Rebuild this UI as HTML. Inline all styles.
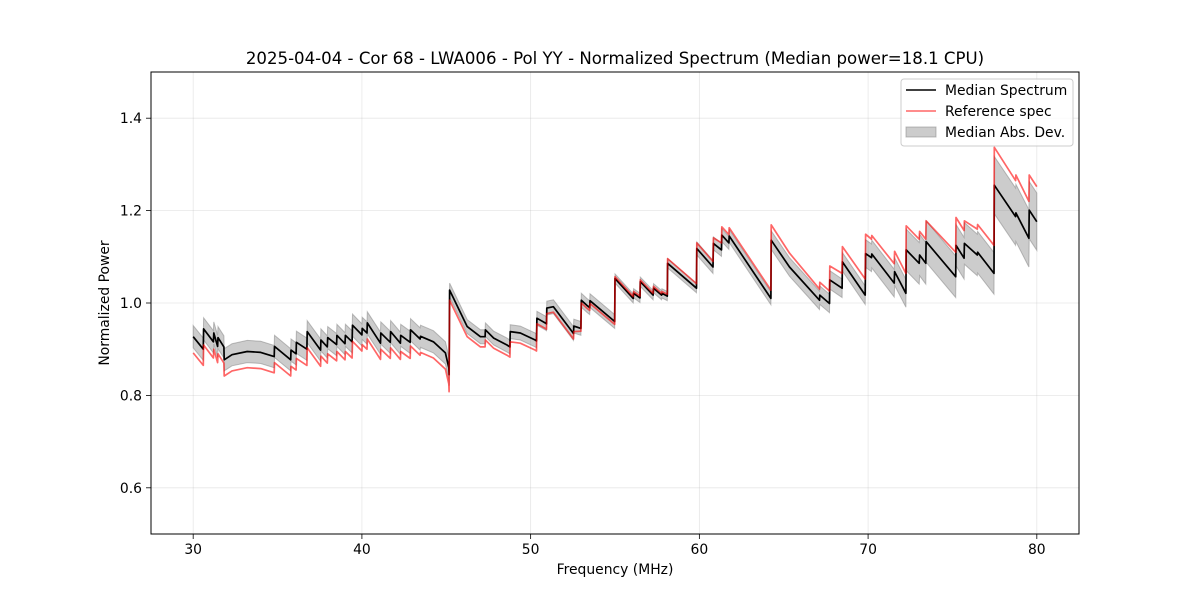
<!DOCTYPE html>
<html><head><meta charset="utf-8"><style>
html,body{margin:0;padding:0;background:#fff;}
svg{display:block;font-family:"DejaVu Sans","Liberation Sans",sans-serif;}
</style></head><body>
<svg id="chart" width="1200" height="600" viewBox="0 0 1200 600" xmlns="http://www.w3.org/2000/svg">
<text x="615" y="64" text-anchor="middle" font-size="16.6" fill="#000">2025-04-04 - Cor 68 - LWA006 - Pol YY - Normalized Spectrum (Median power=18.1 CPU)</text>
<g id="grid"></g>
<g id="plot"></g>
<rect x="151" y="72" width="928" height="462" fill="none" stroke="#000" stroke-width="1"/>
<g id="axes"></g>
<text x="615" y="574" text-anchor="middle" font-size="13.9">Frequency (MHz)</text>
<text x="0" y="0" transform="translate(109,303) rotate(-90)" text-anchor="middle" font-size="13.9">Normalized Power</text>
<g>
<rect x="901" y="79" width="172" height="67" rx="3" fill="#fff" fill-opacity="0.8" stroke="#ccc"/>
<g><line x1="906" y1="90" x2="936" y2="90" stroke="#000" stroke-width="1.5"/><text x="945" y="95" font-size="13.9">Median Spectrum</text></g>
<g><line x1="906" y1="111" x2="936" y2="111" stroke="#ff0000" stroke-opacity="0.6" stroke-width="1.5"/><text x="945" y="116" font-size="13.9">Reference spec</text></g>
<g><rect x="906" y="127" width="30" height="10" fill="#808080" fill-opacity="0.4" stroke="#808080" stroke-opacity="0.5"/><text x="945" y="137" font-size="13.9">Median Abs. Dev.</text></g>
</g>
</svg>
<script>
const freqs=[30.00,30.60,30.62,31.20,31.22,31.45,31.47,31.82,31.84,32.30,33.20,34.00,34.80,34.82,35.78,35.80,36.10,36.12,36.74,36.76,37.55,37.57,37.95,37.97,38.50,38.52,39.00,39.02,39.42,39.44,40.00,40.02,40.30,40.32,41.10,41.12,41.68,41.70,42.28,42.30,42.86,42.88,43.45,43.47,44.24,44.95,45.15,45.17,
45.20,46.24,47.02,47.30,47.32,47.81,48.60,48.77,48.79,49.39,50.27,50.35,50.37,50.86,50.94,50.96,51.35,52.54,52.56,52.98,53.00,53.33,53.50,53.52,54.98,
55.00,56.08,56.10,56.48,56.50,57.26,57.28,57.76,57.78,58.10,58.12,59.83,
59.85,60.81,60.83,61.31,61.33,61.75,61.77,64.24,
64.26,65.34,67.12,67.14,67.71,67.73,68.46,68.48,69.83,
69.85,70.20,70.22,71.55,71.57,72.24,
72.26,73.03,73.05,73.42,73.44,75.19,75.21,75.69,75.71,76.47,76.49,77.46,
77.48,78.74,78.76,79.53,79.55,80.00];
const medianVals=[.927,.900,.944,.916,.935,.906,.925,.905,.877,.888,.895,.893,.884,.906,.877,.898,.890,.915,.900,.938,.898,.920,.905,.925,.910,.930,.912,.930,.916,.952,.931,.945,.935,.957,.913,.935,.915,.938,.913,.930,.915,.942,.922,.928,.916,.892,.860,.845,
1.028,.949,.927,.927,.942,.924,.909,.905,.938,.935,.920,.918,.967,.957,.955,.989,.992,.934,.950,.945,1.006,.995,.990,1.005,.960,
1.053,1.010,1.021,1.011,1.046,1.017,1.032,1.017,1.021,1.015,1.086,1.032,
1.118,1.078,1.129,1.115,1.147,1.130,1.145,1.010,
1.136,1.078,1.006,1.017,.999,1.050,1.032,1.089,1.017,
1.107,1.098,1.106,1.043,1.068,1.021,
1.115,1.086,1.104,1.086,1.133,1.057,1.125,1.097,1.129,1.104,1.110,1.064,
1.255,1.187,1.195,1.140,1.201,1.176];
const refVals=[.892,.865,.909,.881,.900,.871,.890,.870,.842,.853,.860,.858,.849,.871,.842,.863,.855,.880,.865,.903,.863,.885,.870,.890,.875,.895,.877,.895,.881,.917,.896,.910,.900,.922,.878,.900,.880,.903,.878,.895,.880,.907,.887,.893,.881,.857,.825,.808,
1.006,.927,.905,.905,.920,.902,.887,.883,.916,.913,.898,.896,.955,.945,.943,.977,.980,.922,.938,.939,1.000,.989,.984,.999,.954,
1.057,1.014,1.025,1.015,1.050,1.021,1.036,1.021,1.025,1.019,1.096,1.042,
1.130,1.090,1.141,1.130,1.165,1.148,1.163,1.028,
1.169,1.108,1.030,1.045,1.026,1.080,1.064,1.122,1.052,
1.149,1.138,1.146,1.085,1.112,1.064,
1.167,1.138,1.155,1.138,1.178,1.110,1.185,1.157,1.178,1.160,1.170,1.125,
1.337,1.265,1.277,1.220,1.277,1.252];
const madVals=[.024,.024,.024,.024,.024,.024,.024,.024,.024,.024,.024,.024,.024,.024,.024,.024,.024,.024,.024,.024,.024,.024,.024,.024,.024,.024,.024,.024,.024,.024,.024,.024,.024,.024,.024,.024,.024,.024,.024,.024,.024,.024,.024,.024,.024,.024,.024,.024,
.015,.015,.015,.015,.015,.015,.015,.015,.015,.015,.015,.015,.015,.015,.015,.015,.015,.015,.015,.015,.015,.015,.015,.015,.015,
.010,.010,.010,.010,.010,.010,.010,.010,.010,.010,.010,.010,
.014,.014,.014,.014,.014,.014,.014,.014,
.020,.020,.020,.020,.020,.020,.020,.020,.020,
.030,.030,.030,.030,.030,.030,
.045,.045,.045,.045,.045,.045,.045,.045,.045,.045,.045,.045,
.062,.062,.062,.062,.062,.062];
const xTicks=[30,40,50,60,70,80];
const yTicks=[0.6,0.8,1.0,1.2,1.4];
const xTickLabels=["30","40","50","60","70","80"];
const yTickLabels=["0.6","0.8","1.0","1.2","1.4"];

const NS='http://www.w3.org/2000/svg';
const X0=151,X1=1079,Y0=72,Y1=534;
const xMin=27.5,xMax=82.5,yMin=0.5,yMax=1.5;
function sx(f){return X0+(f-xMin)/(xMax-xMin)*(X1-X0);}
function sy(v){return Y1-(v-yMin)/(yMax-yMin)*(Y1-Y0);}
function mk(tag,attrs,parent){const e=document.createElementNS(NS,tag);for(const k in attrs)e.setAttribute(k,attrs[k]);parent.appendChild(e);return e;}
const grid=document.getElementById('grid'),plot=document.getElementById('plot'),axes=document.getElementById('axes');
xTicks.forEach((t,i)=>{
  const x=sx(t);
  const g=mk('line',{x1:x,x2:x,y1:Y0,y2:Y1,stroke:'#b0b0b0','stroke-opacity':0.3,'stroke-width':0.8},grid);
  
  
  const tk=mk('line',{x1:x,x2:x,y1:Y1,y2:Y1+5,stroke:'#000','stroke-width':0.8},axes);
  
  
  const tl=mk('text',{x:x,y:Y1+20,'text-anchor':'middle','font-size':13.9},axes);
  tl.textContent=xTickLabels[i];
  
  
});
yTicks.forEach((t,i)=>{
  const y=sy(t);
  const g=mk('line',{x1:X0,x2:X1,y1:y,y2:y,stroke:'#b0b0b0','stroke-opacity':0.3,'stroke-width':0.8},grid);
  
  
  const tk=mk('line',{x1:X0-5,x2:X0,y1:y,y2:y,stroke:'#000','stroke-width':0.8},axes);
  
  
  const tl=mk('text',{x:X0-9,y:y+5,'text-anchor':'end','font-size':13.9},axes);
  tl.textContent=yTickLabels[i];
  
  
});
let up=[],dn=[];
freqs.forEach((f,i)=>{up.push(sx(f).toFixed(1)+','+sy(medianVals[i]+madVals[i]).toFixed(1));dn.push(sx(f).toFixed(1)+','+sy(medianVals[i]-madVals[i]).toFixed(1));});
const band=mk('polygon',{points:up.concat(dn.reverse()).join(' '),fill:'#808080','fill-opacity':0.4,stroke:'#808080','stroke-opacity':0.5,'stroke-width':1},plot);


const mp=freqs.map((f,i)=>sx(f).toFixed(1)+','+sy(medianVals[i]).toFixed(1)).join(' ');
const med=mk('polyline',{points:mp,fill:'none',stroke:'#000','stroke-width':1.7,'stroke-linejoin':'round'},plot);


const rp=freqs.map((f,i)=>sx(f).toFixed(1)+','+sy(refVals[i]).toFixed(1)).join(' ');
const ref=mk('polyline',{points:rp,fill:'none',stroke:'#ff0000','stroke-opacity':0.6,'stroke-width':1.7,'stroke-linejoin':'round'},plot);


</script>
</body></html>
